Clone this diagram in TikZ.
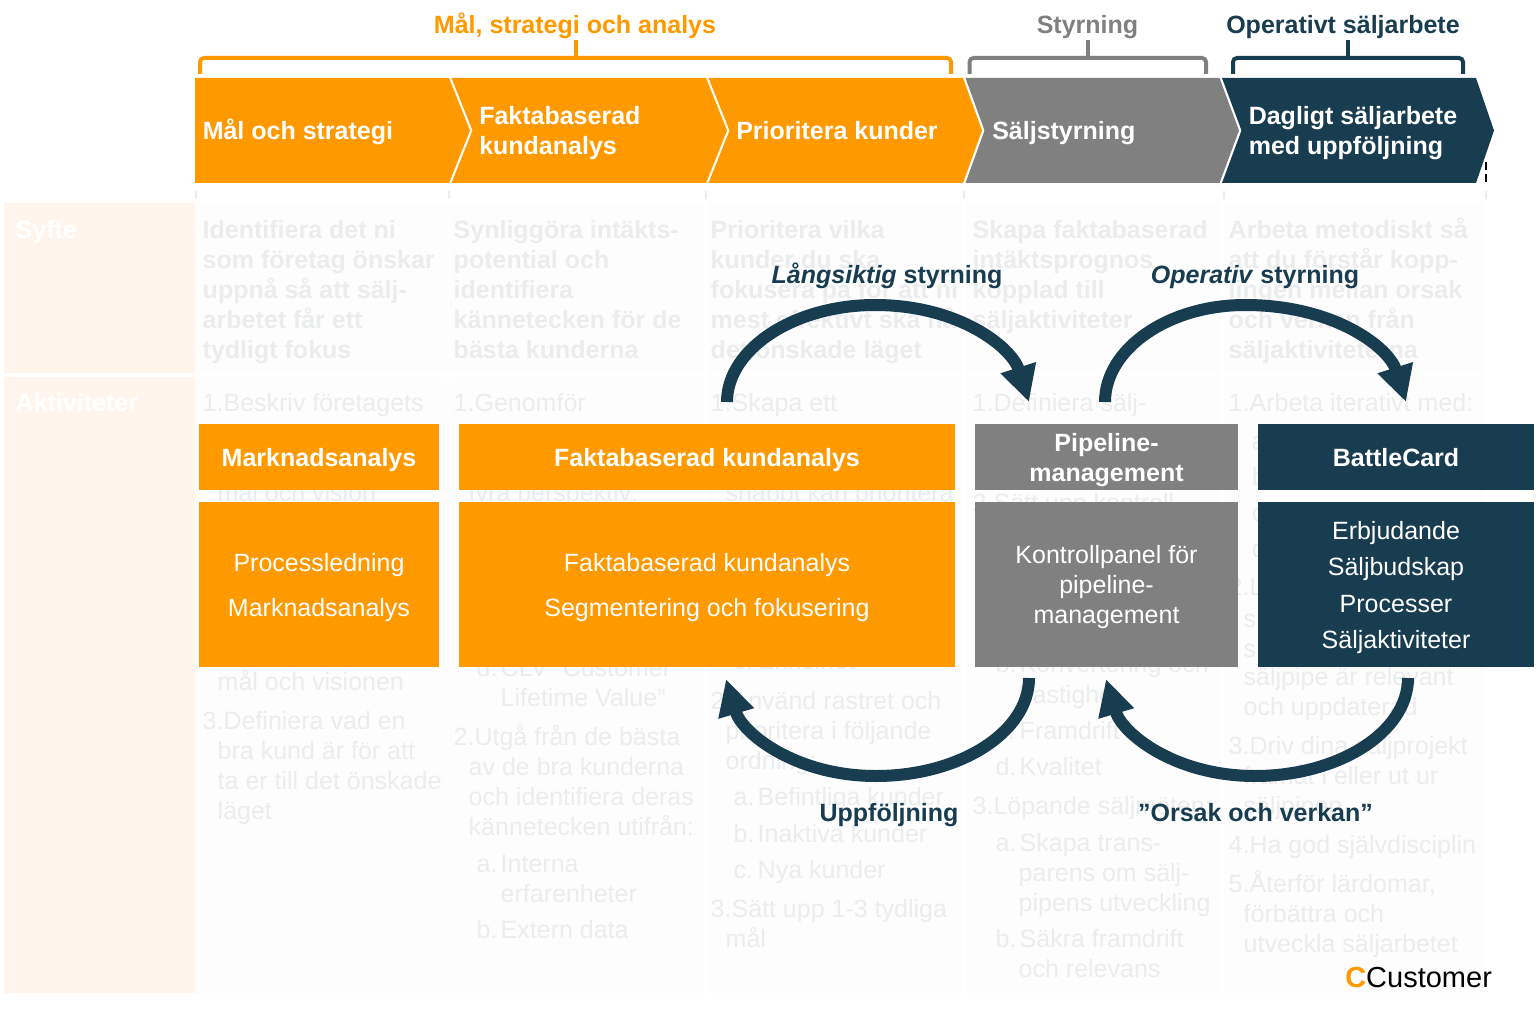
\documentclass[tikz,border=0pt]{standalone}
\usepackage{fontspec}
\usepackage{xcolor}
\setmainfont{Liberation Sans}
\usetikzlibrary{positioning,arrows.meta}

\definecolor{ccorange}{HTML}{FF9900}
\definecolor{ccgray}{HTML}{808080}
\definecolor{ccnavy}{HTML}{183C50}
\definecolor{ccfaint}{HTML}{EBECEE}
\definecolor{ccpanel}{HTML}{FDFDFD}
\definecolor{ccpeach}{HTML}{FFF5EC}
\newcommand{\lab}[1]{\makebox[18pt][l]{#1}}
\newcommand{\evenln}{\rule[-4pt]{0pt}{22pt}}

\begin{document}
\begin{tikzpicture}[x=0.75pt,y=-0.75pt,font=\fontsize{18.75}{22.5}\selectfont,
      faint/.style={anchor=base west,inner sep=0pt,text=ccfaint,xshift=-0.4pt,yshift=0.5pt},
      faintb/.style={faint,font=\fontsize{18.75}{22.5}\selectfont\bfseries},
      stage/.style={anchor=west,align=left,inner sep=0pt,text=white,font=\fontsize{18.75}{22.5}\selectfont\bfseries},
      headbox/.style={minimum height=49.5pt,inner sep=0pt,align=center,text=white,font=\fontsize{18.75}{22.5}\selectfont\bfseries},
      bodybox/.style={minimum height=123.75pt,inner sep=0pt,align=center,text=white},
      brack/.style={line width=3pt,rounded corners=3pt},
      toplab/.style={inner sep=0pt,font=\fontsize{18.75}{22.5}\selectfont\bfseries},
      loopar/.style={line width=9pt,ccnavy,-{Triangle[length=27pt,width=26pt]}},
      looplab/.style={inner sep=0pt,text=ccnavy,font=\fontsize{18.75}{22.5}\selectfont\bfseries}]
    \useasboundingbox (0,0) rectangle (1538,1012);
    % Backgrounds
    \fill[ccpeach] (4,203) rectangle (195,373) (4,377) rectangle (195,993);
    \foreach \a/\b in {196/447,449/704,708/962,966/1221,1224/1484} {
      \fill[ccpanel] (\a,203) rectangle (\b,373) (\a,377) rectangle (\b,993);
    }
    \node[faintb,text=white] (syfte) at (16,239) {Syfte};
    \node[faintb,text=white] (aktiv) at (16,412) {Aktiviteter};
    % Syfte columns
    \foreach \x/\y/\txt [count=\n] in {203/239/Identifiera det ni,203/269/som företag önskar,203/299/uppnå så att sälj-,203/329/arbetet får ett,203/359/tydligt fokus,
        454/239/Synliggöra intäkts-,454/269/potential och,454/299/identifiera,454/329/kännetecken för de,454/359/bästa kunderna,
        711/239/Prioritera vilka,711/269/kunder du ska,711/299/fokusera på för att ni,711/329/mest effektivt ska nå,711/359/det önskade läget,
        973/239/Skapa faktabaserad,973/269/intäktsprognos,973/299/kopplad till,973/329/säljaktiviteter,
        1229/239/Arbeta metodiskt så,1229/269/att du förstår kopp-,1229/299/lingen mellan orsak,1229/329/och verkan från,1229/359/säljaktiviteterna} {
      \node[faintb] (syfte\n) at (\x,\y) {\txt};
    }
    % Aktiviteter columns
    \foreach \x/\y/\txt [count=\n] in {203/412/1.Beskriv företagets,218/502/mål och vision,218/691/mål och visionen,203/730/3.Definiera vad en,218/760/bra kund är för att,218/790/ta er till det önskade,218/820/läget,
        454/412/1.Genomför,469/502/fyra perspektiv:,477/677/\lab{d.}CLV ”Customer,501/707/Lifetime Value”,454/746/2.Utgå från de bästa,469/776/av de bra kunderna,469/806/och identifiera deras,469/836/kännetecken utifrån:,477/873/\lab{a.}Interna,501/903/erfarenheter,477/939/\lab{b.}Extern data,
        711/412/1.Skapa ett,726/502/snabbt kan prioritera,734/670/\lab{c.}Enkelhet,711/710/2.Använd rastret och,726/740/prioritera i följande,726/770/ordning:,734/806/\lab{a.}Befintliga kunder,734/843/\lab{b.}Inaktiva kunder,734/879/\lab{c.}Nya kunder,711/918/3.Sätt upp 1-3 tydliga,726/948/mål,
        973/412/1.Definiera sälj-,973/512/2.Sätt upp kontroll-,996/673/\lab{b.}Konvertering och,1019/704/hastighet,996/740/\lab{c.}Framdrift,996/776/\lab{d.}Kvalitet,973/815/3.Löpande säljmöten:,996/852/\lab{a.}Skapa trans-,1019/882/parens om sälj-,1019/912/pipens utveckling,996/948/\lab{b.}Säkra framdrift,1019/978/och relevans,
        1229/412/1.Arbeta iterativt med:,1252/450/a.,1252/486/b.,1252/522/c.,1252/558/d.,1229/596/2.L,1244/628/s,1244/658/s,1244/686/säljpipe är relevant,1244/716/och uppdaterad,1229/755/3.Driv dina säljprojekt,1244/785/framåt i eller ut ur,1244/815/säljpipen,1229/854/4.Ha god självdisciplin,1229/893/{5.Återför lärdomar,},1244/923/förbättra och,1244/953/utveckla säljarbetet} {
      \node[faint] (akt\n) at (\x,\y) {\txt};
    }
    % Ticks
    \foreach \x in {196,449,706,964,1224,1486} {
      \draw[ccfaint,line width=1.5pt] (\x,191) -- (\x,199);
    }
    \draw[black,line width=1.5pt,dash pattern=on 6pt off 3pt] (1486,162) -- (1486,184);
    % Chevrons
    \fill[ccorange] (195,78) -- (449,78) -- (470,130.5) -- (449,183) -- (195,183) -- cycle;
    \fill[ccorange] (451.5,78) -- (706,78) -- (727,130.5) -- (706,183) -- (451.5,183) -- (472.5,130.5) -- cycle;
    \fill[ccorange] (708.5,78) -- (963,78) -- (982,130.5) -- (963,183) -- (708.5,183) -- (729.5,130.5) -- cycle;
    \fill[ccgray] (965.5,78) -- (1219.5,78) -- (1239,130.5) -- (1219.5,183) -- (965.5,183) -- (984.5,130.5) -- cycle;
    \fill[ccnavy] (1222,78) -- (1476,78) -- (1494,130.5) -- (1476,183) -- (1222,183) -- (1241.5,130.5) -- cycle;
    \node[stage] (malst) at (202.5,130.5) {\evenln Mål och strategi};
    \node[stage] (fakta) at (479,130.5) {\evenln Faktabaserad\\kundanalys};
    \node[stage] (prio) at (736,130.5) {\evenln Prioritera kunder};
    \node[stage] (saljst) at (992,130.5) {\evenln Säljstyrning};
    \node[stage] (daglig) at (1248.5,130.5) {\evenln Dagligt säljarbete\\med uppföljning};
    % Brackets
    \draw[brack,ccorange] (200,74) -- (200,58) -- (951,58) -- (951,74);
    \draw[ccorange,line width=3pt] (575.5,58) -- (575.5,40);
    \draw[brack,ccgray] (969.5,74) -- (969.5,58) -- (1206,58) -- (1206,74);
    \draw[ccgray,line width=3pt] (1087.5,58) -- (1087.5,40);
    \draw[brack,ccnavy] (1233,74) -- (1233,58) -- (1463,58) -- (1463,74);
    \draw[ccnavy,line width=3pt] (1348,58) -- (1348,40);
    \node[toplab,text=ccorange] (tmal) at (575,24) {\evenln Mål, strategi och analys};
    \node[toplab,text=ccgray] (tstyr) at (1087.5,24) {\evenln Styrning};
    \node[toplab,text=ccnavy] (toper) at (1343,24) {\evenln Operativt säljarbete};
    % Boxes
    \node[headbox,fill=ccorange,minimum width=180pt] (h1) at (319,457) {\evenln Marknadsanalys};
    \node[headbox,fill=ccorange,minimum width=372pt] (h2) at (707,457) {\evenln Faktabaserad kundanalys};
    \node[headbox,fill=ccgray,minimum width=197.25pt] (h3) at (1106.5,457) {\evenln Pipeline-\\management};
    \node[headbox,fill=ccnavy,minimum width=207pt] (h4) at (1396,457) {\evenln BattleCard};
    \node[bodybox,fill=ccorange,minimum width=180pt] (b1) at (319,584.5) {\evenln Processledning\\[11.25pt]Marknadsanalys};
    \node[bodybox,fill=ccorange,minimum width=372pt] (b2) at (707,584.5) {\evenln Faktabaserad kundanalys\\[11.25pt]Segmentering och fokusering};
    \node[bodybox,fill=ccgray,minimum width=197.25pt] (b3) at (1106.5,584.5) {\evenln Kontrollpanel för\\pipeline-\\management};
    \node[bodybox,fill=ccnavy,minimum width=207pt] (b4) at (1396,584.5) {\evenln Erbjudande\\[4.7pt]Säljbudskap\\[4.7pt]Processer\\[4.7pt]Säljaktiviteter};
    % Loop arrows
    \coordinate (lang a) at (727,402);
    \coordinate (lang b) at (1029,402);
    \coordinate (oper a) at (1105,402);
    \coordinate (oper b) at (1406,402);
    \coordinate (upp a) at (1029,678);
    \coordinate (upp b) at (726,679);
    \coordinate (ors a) at (1408,678);
    \coordinate (ors b) at (1106,679);
    \draw[loopar] (lang a) .. controls (727,349) and (794,305) .. (875,305) .. controls (960,305) and (1012,348) .. (lang b);
    \draw[loopar] (oper a) .. controls (1105,349) and (1168,305) .. (1245,305) .. controls (1335,305) and (1389,348) .. (oper b);
    \draw[loopar] (upp a) .. controls (1029,732) and (960,776) .. (876,776) .. controls (795,776) and (742,733) .. (upp b);
    \draw[loopar] (ors a) .. controls (1408,732) and (1339,776) .. (1255,776) .. controls (1174,776) and (1122,733) .. (ors b);
    \node[looplab] (llang) at (887,274) {\evenln \textit{Långsiktig} styrning};
    \node[looplab] (loper) at (1255,274) {\evenln \textit{Operativ} styrning};
    \node[looplab] (lupp) at (889,812) {\evenln Uppföljning};
    \node[looplab] (lors) at (1255.5,812) {\evenln ”Orsak och verkan”};
    % Logo
    \node[anchor=base west,inner sep=0pt,font=\fontsize{21.75}{26}\selectfont] (logo) at (1345,987) {\textcolor{ccorange}{\bfseries C}Customer};
\end{tikzpicture}
\end{document}
